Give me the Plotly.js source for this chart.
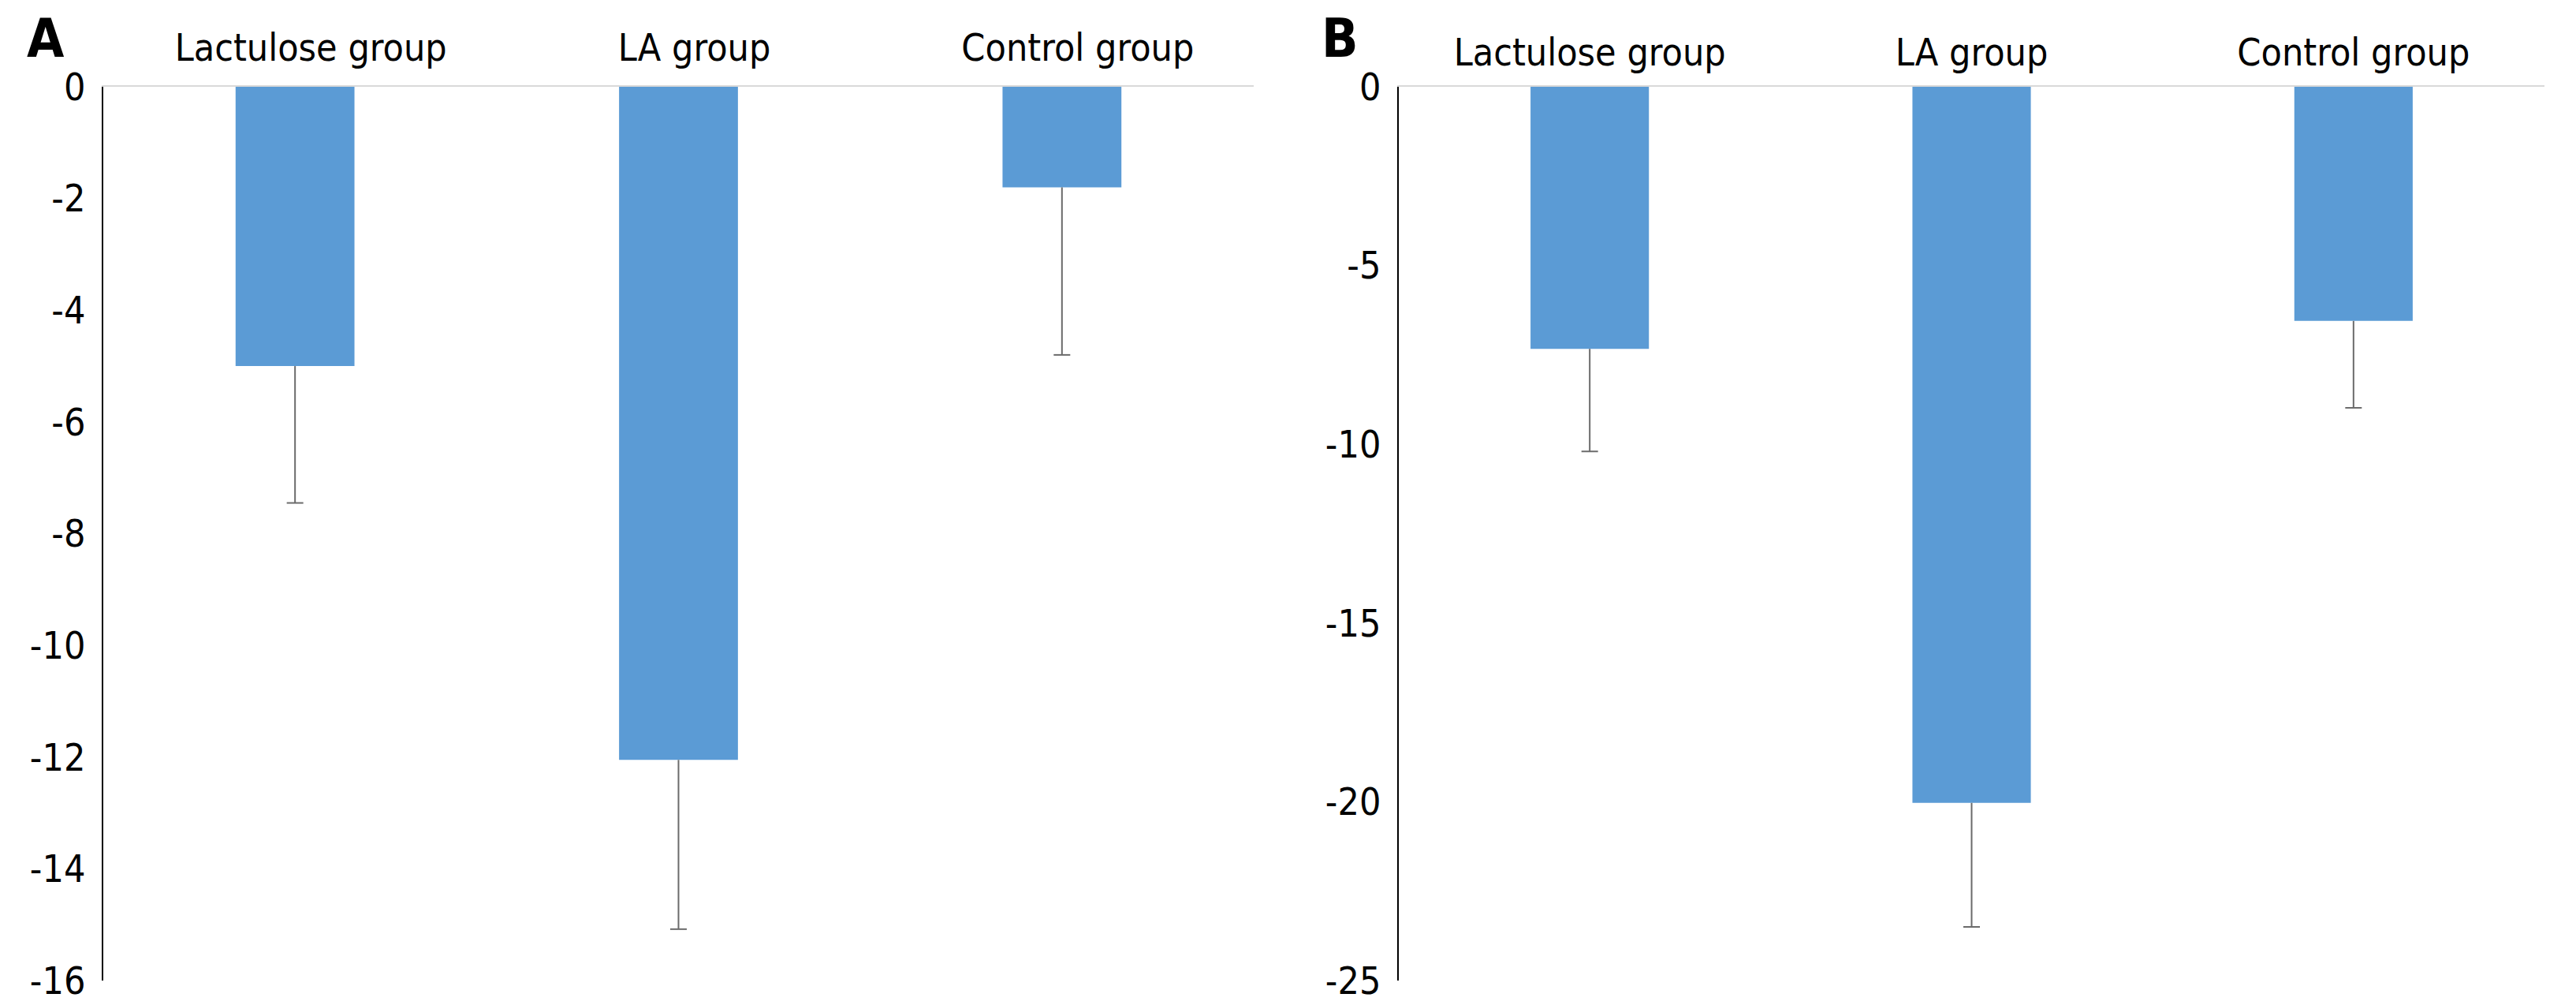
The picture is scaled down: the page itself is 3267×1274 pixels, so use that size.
<!DOCTYPE html>
<html>
<head>
<meta charset="utf-8">
<script src="https://cdn.plot.ly/plotly-3.0.1.min.js"></script>
<style>
  html, body { margin: 0; padding: 0; background: #fff; }
  #chart { width: 3267px; height: 1274px; }
</style>
</head>
<body>
<div id="chart"></div>
<script>
const groups = ["Lactulose group", "LA group", "Control group"];

// panel A
const changeA = [-5.0, -12.05, -1.8];
const errA = [2.45, 3.03, 3.0];
const ticksA = [0, -2, -4, -6, -8, -10, -12, -14, -16];

// panel B
const changeB = [-7.33, -20.03, -6.55];
const errB = [2.87, 3.47, 2.43];
const ticksB = [0, -5, -10, -15, -20, -25];

const W = 3267;
const H = 1274;
const barColor = "#5b9bd5";
const errColor = "#6b6b6b";
const fontFamily = "Tahoma, 'DejaVu Sans Condensed', 'Liberation Sans', sans-serif";

// bars with a one-sided (downward) error line, no hat at the bar end
const makeBars = (y, err, xa, ya) => ({
  type: "bar",
  x: groups,
  y: y,
  xaxis: xa,
  yaxis: ya,
  marker: { color: barColor, line: { width: 0 } },
  error_y: {
    type: "data",
    symmetric: false,
    array: y.map(() => 0),
    arrayminus: err,
    color: errColor,
    thickness: 2,
    width: 0,
  },
  hoverinfo: "skip",
  showlegend: false,
});

// the cap at the lower end of each error line
const makeCaps = (y, err, xa, ya) => ({
  type: "scatter",
  mode: "markers",
  x: groups,
  y: y.map((v, i) => v - err[i]),
  xaxis: xa,
  yaxis: ya,
  marker: {
    symbol: "line-ew",
    size: 15,
    line: { color: errColor, width: 2 },
  },
  hoverinfo: "skip",
  showlegend: false,
});

const xAxisBase = (shift, standoff) => ({
  type: "category",
  side: "top",
  showline: true,
  linecolor: "#d9d9d9",
  linewidth: 2,
  showgrid: false,
  zeroline: false,
  ticks: "",
  ticklabelshift: shift,
  ticklabelstandoff: standoff,
  tickfont: { family: fontFamily, size: 48, color: "#000" },
  fixedrange: true,
});

const yAxisBase = (ticks) => ({
  range: [ticks[ticks.length - 1], 0],
  tickvals: ticks,
  ticktext: ticks.map(String),
  showline: true,
  linecolor: "#000",
  linewidth: 2,
  showgrid: false,
  zeroline: false,
  ticks: "",
  ticklabelstandoff: 11,
  tickfont: { family: fontFamily, size: 48, color: "#000" },
  domain: [1 - 1243 / H, 1 - 110 / H],
  fixedrange: true,
});

const layout = {
  width: W,
  height: H,
  margin: { l: 0, r: 0, t: 0, b: 0 },
  paper_bgcolor: "#fff",
  plot_bgcolor: "#fff",
  bargap: 0.69,
  xaxis: Object.assign(xAxisBase(20, 12), { domain: [131 / W, 1590 / W], anchor: "y" }),
  yaxis: Object.assign(yAxisBase(ticksA), { anchor: "x" }),
  xaxis2: Object.assign(xAxisBase(0, 6), { domain: [1774 / W, 3227 / W], anchor: "y2" }),
  yaxis2: Object.assign(yAxisBase(ticksB), { anchor: "x2" }),
  annotations: [
    {
      text: "<b>A</b>",
      xref: "paper",
      yref: "paper",
      x: 58 / W,
      y: 1 - 48 / H,
      xanchor: "center",
      yanchor: "middle",
      showarrow: false,
      font: { family: fontFamily, size: 68, color: "#000" },
    },
    {
      text: "<b>B</b>",
      xref: "paper",
      yref: "paper",
      x: 1699 / W,
      y: 1 - 48 / H,
      xanchor: "center",
      yanchor: "middle",
      showarrow: false,
      font: { family: fontFamily, size: 68, color: "#000" },
    },
  ],
};

Plotly.newPlot(
  "chart",
  [
    makeBars(changeA, errA, "x", "y"),
    makeCaps(changeA, errA, "x", "y"),
    makeBars(changeB, errB, "x2", "y2"),
    makeCaps(changeB, errB, "x2", "y2"),
  ],
  layout,
  { staticPlot: true }
);
</script>
</body>
</html>
